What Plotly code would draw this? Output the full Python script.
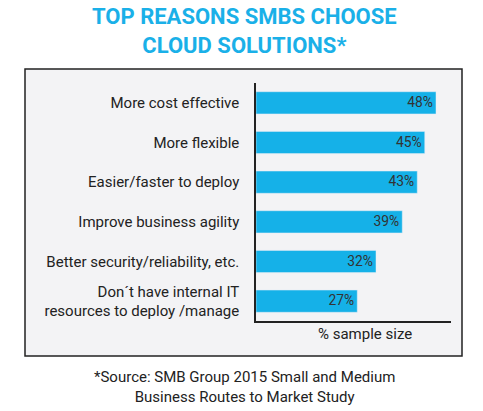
import plotly.graph_objects as go

# values, top to bottom
reasons = ["More cost effective", "More flexible", "Easier/faster to deploy",
           "Improve business agility", "Better security/reliability, etc.",
           "Don´t have internal IT<br>resources to deploy /manage"]
pct = [48, 45, 43, 39, 32, 27]
pct_labels = [str(v) + "%" for v in pct]

W, H = 483, 411
ml, mr, mt, mb = 256, 32, 83, 90
pw, ph = W - ml - mr, H - mt - mb


def px(x):
    return (x - ml) / pw


def py(y):
    return (H - mb - y) / ph


fig = go.Figure(go.Bar(
    x=pct, y=reasons, orientation="h",
    marker_color="#15b1e8", width=0.56,
    text=pct_labels, textposition="inside", insidetextanchor="end",
    textfont=dict(color="#333333", size=14.5, family="Roboto"),
    cliponaxis=False, hoverinfo="skip",
))

# grey framed box behind the chart
fig.add_shape(type="rect", xref="paper", yref="paper", layer="below",
              x0=px(25), x1=px(462), y0=py(356), y1=py(69),
              fillcolor="#f3f3f5", line=dict(color="#222222", width=1.5))

fig.add_annotation(text="% sample size", xref="paper", yref="paper",
                   x=px(365), y=py(334), xanchor="center", yanchor="middle",
                   showarrow=False,
                   font=dict(size=15, color="#222222", family="Roboto"))

fig.add_annotation(text="*Source: SMB Group 2015 Small and Medium<br>Business Routes to Market Study",
                   xref="paper", yref="paper", x=px(244), y=py(387),
                   xanchor="center", yanchor="middle",
                   showarrow=False, align="center",
                   font=dict(size=15, color="#222222", family="Roboto"))

fig.add_annotation(text="<b>TOP REASONS SMBS CHOOSE<br>CLOUD SOLUTIONS*</b>",
                   xref="paper", yref="paper", x=px(244), y=py(31),
                   xanchor="center", yanchor="middle",
                   showarrow=False, align="center",
                   font=dict(size=22, color="#1ab0e8", family="Roboto"))

fig.update_layout(
    width=W, height=H, margin=dict(l=ml, r=mr, t=mt, b=mb),
    paper_bgcolor="white", plot_bgcolor="rgba(0,0,0,0)",
    showlegend=False, bargap=0.44,
    xaxis=dict(range=[0, 52], showgrid=False, zeroline=False,
               showticklabels=False, ticks="", showline=True,
               linecolor="#222222", linewidth=1.5, fixedrange=True),
    yaxis=dict(autorange="reversed", showgrid=False, zeroline=False,
               ticks="", showline=True, linecolor="#222222", linewidth=1.5,
               ticklabelstandoff=12, fixedrange=True,
               tickfont=dict(size=15, color="#222222", family="Roboto")),
)

fig.write_html("out.html", config={"displayModeBar": False},
               post_script="document.body.style.margin='0';")
